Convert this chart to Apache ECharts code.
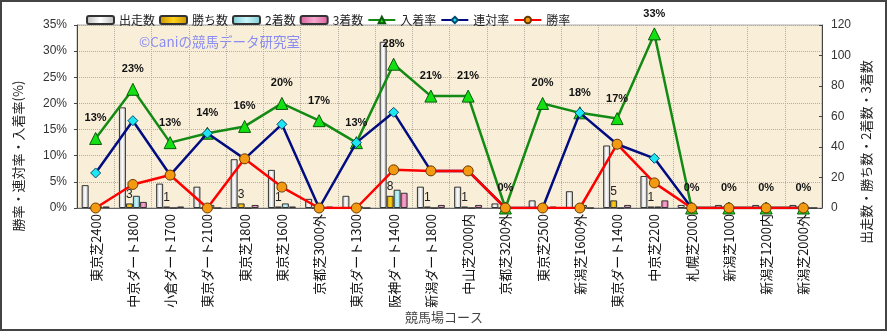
<!DOCTYPE html>
<html>
<head>
<meta charset="utf-8">
<script src="https://cdn.jsdelivr.net/npm/echarts@6/dist/echarts.min.js"></script>
<style>
  html, body { margin: 0; padding: 0; background: #fff; }
  #chart { width: 889px; height: 332px; }
</style>
</head>
<body>
<div id="chart"></div>
<script>
// コース別成績
const courses = ['東京芝2400','中京ダート1800','小倉ダート1700','東京ダート2100','東京芝1800','東京芝1600','京都芝3000外','東京ダート1300','阪神ダート1400','新潟ダート1800','中山芝2000内','京都芝3200外','東京芝2500','新潟芝1600外','東京ダート1400','中京芝2200','札幌芝2000','新潟芝1000','新潟芝1200内','新潟芝2000外'];
const runs    = [15, 66, 16, 14, 32, 25, 6, 8, 109, 14, 14, 3, 5, 11, 41, 21, 2, 2, 2, 2];
const wins    = [0, 3, 1, 0, 3, 1, 0, 0, 8, 1, 1, 0, 0, 0, 5, 1, 0, 0, 0, 0];
const seconds = [1, 8, 0, 2, 0, 3, 0, 1, 12, 0, 0, 0, 0, 2, 0, 1, 0, 0, 0, 0];
const thirds  = [1, 4, 1, 0, 2, 1, 1, 0, 10, 2, 2, 0, 1, 0, 2, 5, 0, 0, 0, 0];
// 率 (%)
const winRate   = [0, 4.5, 6.3, 0, 9.4, 4.0, 0, 0, 7.3, 7.1, 7.1, 0, 0, 0, 12.2, 4.8, 0, 0, 0, 0];
const quinRate  = [6.7, 16.7, 6.3, 14.3, 9.4, 16.0, 0, 12.5, 18.3, 7.1, 7.1, 0, 0, 18.2, 12.2, 9.5, 0, 0, 0, 0];
const placeRate = [13.3, 22.7, 12.5, 14.3, 15.6, 20.0, 16.7, 12.5, 27.5, 21.4, 21.4, 0, 20.0, 18.2, 17.1, 33.3, 0, 0, 0, 0];
// 軸目盛
const rateTicks  = { min: 0, max: 35, interval: 5 };
const countTicks = { min: 0, max: 120, interval: 20 };

const JP = '"Noto Sans CJK JP", "Noto Sans", sans-serif';

function hGrad(edge, mid) {
  return new echarts.graphic.LinearGradient(0, 0, 1, 0, [
    { offset: 0, color: edge }, { offset: 0.5, color: mid }, { offset: 1, color: edge }
  ]);
}

const barBorder = { borderColor: '#333', borderWidth: 1 };

const chart = echarts.init(document.getElementById('chart'), null, { renderer: 'canvas' });
chart.setOption({
  animation: false,
  backgroundColor: '#fff',
  textStyle: { fontFamily: JP },
  legend: {
    left: 81, top: 9, itemWidth: 27, itemHeight: 8, itemGap: 4,
    textStyle: { fontSize: 12, color: '#222', fontFamily: JP },
    data: ['出走数','勝ち数','2着数','3着数','入着率','連対率','勝率']
  },
  grid: {
    left: 77, right: 67, top: 25, bottom: 124,
    show: true, backgroundColor: '#f9efd9', borderColor: '#aaa', borderWidth: 1
  },
  xAxis: {
    type: 'category', data: courses,
    axisLine: { lineStyle: { color: '#666' } },
    axisTick: { show: false },
    splitLine: { show: true, interval: 0, lineStyle: { color: '#b5ada0', type: 'dotted' } },
    axisLabel: { interval: 0, rotate: 90, fontSize: 13, color: '#111', margin: 6, fontFamily: JP }
  },
  yAxis: [
    {
      type: 'value', min: rateTicks.min, max: rateTicks.max, interval: rateTicks.interval,
      axisLine: { show: true, lineStyle: { color: '#444' } },
      axisTick: { show: true, length: 3, lineStyle: { color: '#444' } },
      splitLine: { show: true, lineStyle: { color: '#b5ada0', type: 'dotted' } },
      axisLabel: { formatter: '{value}%', fontSize: 12, color: '#333', margin: 10, fontFamily: 'Liberation Sans, Arial, sans-serif' }
    },
    {
      type: 'value', min: countTicks.min, max: countTicks.max, interval: countTicks.interval,
      axisLine: { show: true, lineStyle: { color: '#444' } },
      axisTick: { show: true, inside: true, length: 3, lineStyle: { color: '#444' } },
      splitLine: { show: false },
      axisLabel: { fontSize: 12, color: '#333', margin: 9, fontFamily: 'Liberation Sans, Arial, sans-serif' }
    }
  ],
  series: [
    { name: '出走数', type: 'bar', yAxisIndex: 1, data: runs, barGap: '0%', barCategoryGap: '25%',
      itemStyle: Object.assign({ color: hGrad('#b8b8b8', '#ffffff') }, barBorder) },
    { name: '勝ち数', type: 'bar', yAxisIndex: 1, data: wins,
      itemStyle: Object.assign({ color: hGrad('#c89000', '#ffd21a') }, barBorder),
      label: { show: true, position: 'top', distance: 3, fontSize: 12, color: '#222',
               fontFamily: 'Liberation Sans, Arial, sans-serif',
               formatter: p => (p.value > 0 ? String(p.value) : '') } },
    { name: '2着数', type: 'bar', yAxisIndex: 1, data: seconds,
      itemStyle: Object.assign({ color: hGrad('#7ccbd4', '#c8f6fa') }, barBorder) },
    { name: '3着数', type: 'bar', yAxisIndex: 1, data: thirds,
      itemStyle: Object.assign({ color: hGrad('#d9609c', '#f6a8cf') }, barBorder) },
    { name: '入着率', type: 'line', yAxisIndex: 0, data: placeRate, z: 3,
      lineStyle: { color: '#138a13', width: 2.5 },
      symbol: 'triangle', symbolSize: 12,
      itemStyle: { color: '#12e012', borderColor: '#0a5a0a', borderWidth: 1 },
      label: { show: true, position: 'top', distance: 8, fontSize: 11, fontWeight: 'bold', color: '#111',
               fontFamily: 'Liberation Sans, Arial, sans-serif',
               formatter: p => Math.round(p.value) + '%' } },
    { name: '連対率', type: 'line', yAxisIndex: 0, data: quinRate, z: 4,
      lineStyle: { color: '#000c80', width: 2.5 },
      symbol: 'diamond', symbolSize: 10,
      itemStyle: { color: '#1ee6f0', borderColor: '#064a70', borderWidth: 1 } },
    { name: '勝率', type: 'line', yAxisIndex: 0, data: winRate, z: 5,
      lineStyle: { color: '#ff0000', width: 2.5 },
      symbol: 'circle', symbolSize: 10,
      itemStyle: { color: '#f39a12', borderColor: '#6a3a00', borderWidth: 1 } }
  ],
  graphic: [
    { type: 'rect', shape: { x: 1, y: 1, width: 885, height: 329 }, silent: true, z: 100,
      style: { fill: 'none', stroke: '#444', lineWidth: 2 } },
    { type: 'text', left: 139, top: 35, silent: true, z: 50,
      style: { text: '©Caniの競馬データ研究室', fill: '#8a8cf2', font: '13.5px ' + JP } },
    { type: 'text', x: 18, y: 156, rotation: Math.PI / 2, silent: true,
      style: { text: '勝率・連対率・入着率(%)', fill: '#222', font: '13px ' + JP, align: 'center', verticalAlign: 'middle' } },
    { type: 'text', x: 866, y: 152, rotation: Math.PI / 2, silent: true,
      style: { text: '出走数・勝ち数・2着数・3着数', fill: '#222', font: '13px ' + JP, align: 'center', verticalAlign: 'middle' } },
    { type: 'text', x: 444, y: 317, silent: true,
      style: { text: '競馬場コース', fill: '#444', font: '13px ' + JP, align: 'center', verticalAlign: 'middle' } }
  ]
});
</script>
</body>
</html>
